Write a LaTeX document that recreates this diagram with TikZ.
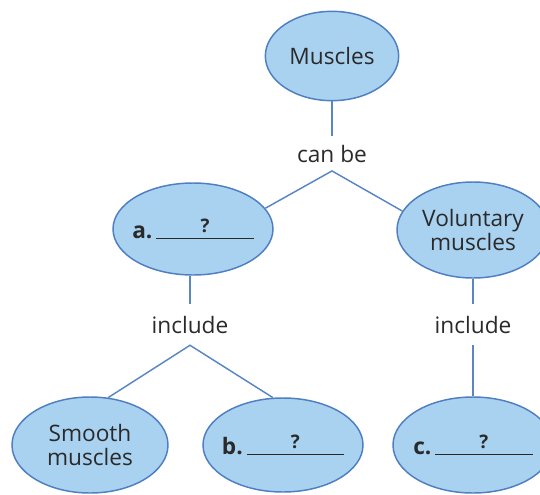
\documentclass[tikz,border=0pt]{standalone}
\usepackage{fontspec}
\setmainfont{Open Sans}
\usetikzlibrary{shapes.geometric}
\definecolor{ellfill}{HTML}{A9D2F1}
\definecolor{ellline}{HTML}{4F7FC0}
\definecolor{connc}{HTML}{5A86C4}
\definecolor{txtc}{HTML}{2A2A2A}
\newcommand\blankq{\makebox[0pt][l]{\rule[-0.4pt]{4.3em}{0.9pt}}\makebox[4.3em]{\raisebox{5pt}{\fontsize{14}{15}\selectfont\bfseries ?}}}
\begin{document}
\begin{tikzpicture}[x=0.75pt,y=-0.75pt,
  ell/.style={ellipse,draw=ellline,line width=1.1pt,fill=ellfill,inner sep=0pt},
  ellt/.style={text=txtc,font=\fontsize{17}{18.5}\selectfont,align=center},
  lbl/.style={text=txtc,font=\fontsize{17}{18.5}\selectfont,inner xsep=0pt,text height=12.5pt,text depth=0pt},
  conn/.style={draw=connc,line width=1.1pt}]
\useasboundingbox (0,0) rectangle (540,494);
% ellipses
\node[ell,minimum width=100pt,minimum height=67pt,label={[ellt]center:Muscles}] (M) at (332,56) {};
\node[ell,minimum width=120pt,minimum height=69pt,label={[ellt]center:{\textbf{a.}\,\blankq}}] (A) at (193,229) {};
\node[ell,minimum width=114pt,minimum height=72pt,label={[ellt]center:Voluntary\\muscles}] (V) at (473,230) {};
\node[ell,minimum width=117pt,minimum height=72pt,label={[ellt]center:Smooth\\muscles}] (S) at (90,445) {};
\node[ell,minimum width=120pt,minimum height=70.5pt,label={[ellt]center:{\textbf{b.}\,\blankq}}] (B) at (283,445) {};
\node[ell,minimum width=120pt,minimum height=72pt,label={[ellt]center:{\textbf{c.}\,\blankq}}] (C) at (473,445) {};
% link words
\node[lbl,inner ysep=6.5pt,anchor=base] (canbe) at (332,162) {can be};
\node[lbl,inner ysep=9pt,anchor=base] (inc1) at (190,333) {include};
\node[lbl,inner ysep=9pt,anchor=base] (inc2) at (473,333) {include};
% connectors
\draw[conn] (M.south) -- (canbe.north);
\draw[conn] (A.16) -- (canbe.south) -- (V.165);
\draw[conn] (inc1.north |- A.south) -- (inc1.north);
\draw[conn] (S.69) -- (inc1.south) -- (B.102);
\draw[conn] (V.south) -- (inc2.north);
\draw[conn] (inc2.south) -- (C.north);
\end{tikzpicture}
\end{document}
